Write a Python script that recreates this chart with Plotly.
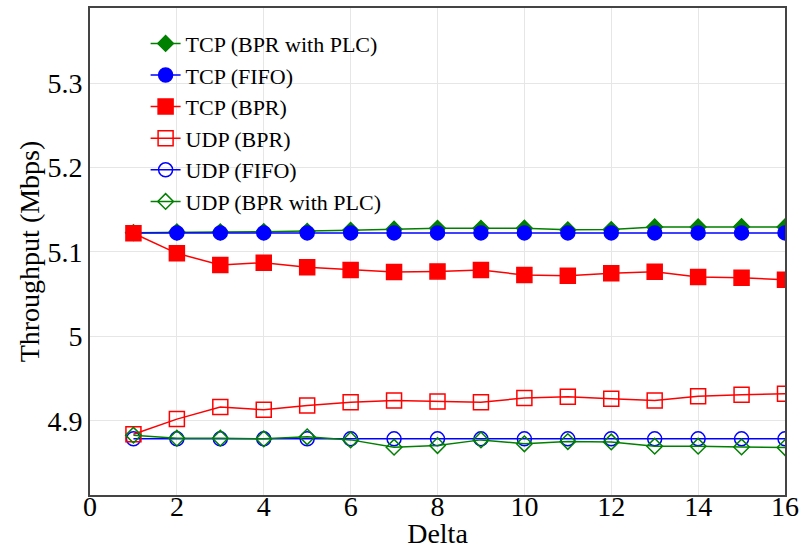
import plotly.graph_objects as go

delta = list(range(1, 17))

tcp_bpr_plc = [5.1229, 5.1237, 5.1237, 5.1240, 5.1245, 5.1257, 5.1270, 5.1280,
               5.1280, 5.1282, 5.1262, 5.1265, 5.1297, 5.1297, 5.1300, 5.1297]
tcp_fifo = [5.1226] * 16
tcp_bpr = [5.1222, 5.0984, 5.0846, 5.0873, 5.0818, 5.0786, 5.0762, 5.0770,
           5.0786, 5.0727, 5.0719, 5.0747, 5.0766, 5.0703, 5.0695, 5.0671]
udp_bpr = [4.8840, 4.9020, 4.9163, 4.9130, 4.9180, 4.9220, 4.9240, 4.9230,
           4.9220, 4.9270, 4.9285, 4.9260, 4.9240, 4.9290, 4.9310, 4.9320]
udp_fifo = [4.8786] * 16
udp_bpr_plc = [4.8830, 4.8794, 4.8794, 4.8786, 4.8810, 4.8774, 4.8687, 4.8707,
               4.8774, 4.8727, 4.8754, 4.8750, 4.8699, 4.8699, 4.8690, 4.8683]

GREEN = "#008000"
BLUE = "#0000ff"
RED = "#ff0000"
FONT = "Liberation Serif, serif"

# (name, values, colour, symbol, size, legend position) in drawing order
series = [
    ("UDP (FIFO)", udp_fifo, BLUE, "circle-open", 14, 5),
    ("UDP (BPR)", udp_bpr, RED, "square-open", 15, 4),
    ("UDP (BPR with PLC)", udp_bpr_plc, GREEN, "diamond-open", 12, 6),
    ("TCP (BPR with PLC)", tcp_bpr_plc, GREEN, "diamond", 12, 1),
    ("TCP (FIFO)", tcp_fifo, BLUE, "circle", 14, 2),
    ("TCP (BPR)", tcp_bpr, RED, "square", 15, 3),
]

fig = go.Figure()
for name, vals, color, symbol, size, rank in series:
    fig.add_trace(go.Scatter(
        x=delta, y=vals, name=name, mode="lines+markers",
        line=dict(color=color, width=1.5),
        marker=dict(symbol=symbol, size=size, color=color,
                    line=dict(color=color, width=1.5)),
        legendrank=rank,
    ))

fig.update_layout(
    template="none",
    width=803, height=549,
    margin=dict(l=90, r=18, t=8, b=54),
    paper_bgcolor="white", plot_bgcolor="white",
    font=dict(family=FONT, color="black", size=23),
    showlegend=True,
    legend=dict(x=0.08, y=0.97, xanchor="left", yanchor="top",
                bgcolor="rgba(0,0,0,0)", borderwidth=0,
                font=dict(size=22, family=FONT, color="black"),
                tracegroupgap=0, itemwidth=30),
    xaxis=dict(range=[0, 16], tickvals=list(range(0, 17, 2)),
               showgrid=True, gridcolor="#e6e6e6", gridwidth=1,
               zeroline=False, showline=True, linecolor="#444", linewidth=2,
               mirror=True, ticks="", automargin=False, ticklabelstandoff=-15,
               tickfont=dict(size=28, family=FONT, color="black"),
               title=dict(text="Delta", font=dict(size=28, family=FONT), standoff=0)),
    yaxis=dict(range=[4.8121, 5.389], tickvals=[4.9, 5.0, 5.1, 5.2, 5.3],
               ticktext=["4.9", "5", "5.1", "5.2", "5.3"],
               showgrid=True, gridcolor="#e6e6e6", gridwidth=1,
               zeroline=False, showline=True, linecolor="#444", linewidth=2,
               mirror=True, ticks="", automargin=False,
               tickfont=dict(size=28, family=FONT, color="black"),
               title=dict(text="Throughput (Mbps)", font=dict(size=28, family=FONT),
                          standoff=0)),
)

fig.write_html("out.html")
